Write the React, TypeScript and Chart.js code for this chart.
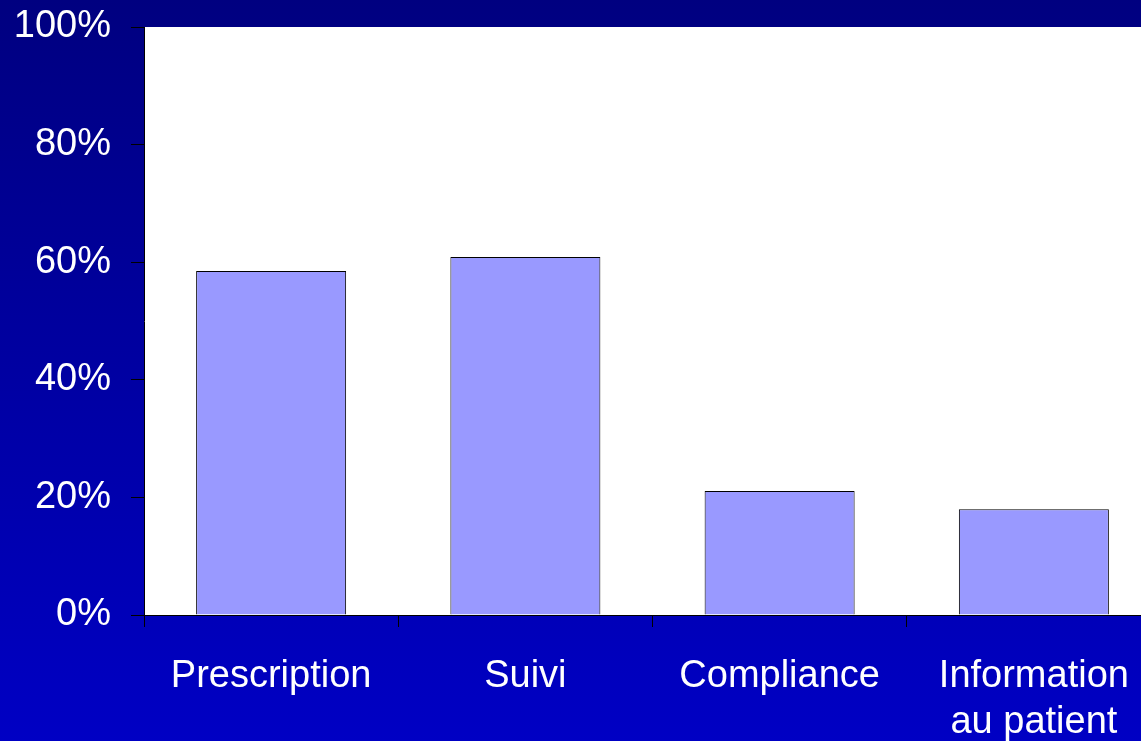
import React, { useEffect, useRef } from "react";
import { Chart, registerables } from "chart.js";

Chart.register(...registerables);

const categories: (string | string[])[] = ["Prescription", "Suivi", "Compliance", ["Information", "au patient"]];
const values: number[] = [58.5, 60.9, 21.1, 18.0];
const yTicks: number[] = [0, 20, 40, 60, 80, 100];

const bgPlugin = {
  id: "bgPlugin",
  beforeDraw(chart: any) {
    const { ctx, width, height, chartArea } = chart;
    ctx.save();
    const g = ctx.createLinearGradient(0, 0, 0, height);
    g.addColorStop(0, "#000080");
    g.addColorStop(1, "#0000C4");
    ctx.fillStyle = g;
    ctx.fillRect(0, 0, width, height);
    ctx.fillStyle = "#ffffff";
    ctx.fillRect(chartArea.left, chartArea.top, chartArea.right - chartArea.left, chartArea.bottom - chartArea.top);
    ctx.restore();
  },
};

export default function App() {
  const ref = useRef<HTMLCanvasElement | null>(null);
  useEffect(() => {
    document.body.style.margin = "0";
    const chart = new Chart(ref.current!, {
      type: "bar",
      data: {
        labels: categories,
        datasets: [
          {
            data: values,
            backgroundColor: "#9999FF",
            borderColor: "#000000",
            borderWidth: 1,
            barPercentage: 0.59,
            categoryPercentage: 1,
          },
        ],
      },
      options: {
        responsive: false,
        animation: false,
        layout: { padding: { top: 27, right: 0, left: 0, bottom: 0 } },
        plugins: { legend: { display: false }, tooltip: { enabled: false } },
        scales: {
          x: {
            grid: {
              offset: true,
              drawOnChartArea: false,
              color: "#000000",
              tickLength: 12,
            },
            border: { color: "#000000", width: 1 },
            ticks: {
              color: "#ffffff",
              font: { family: "'Liberation Sans', Arial, sans-serif", size: 38, lineHeight: 1.22 },
              padding: 26,
              maxRotation: 0,
              autoSkip: false,
            },
            afterFit(scale: any) {
              scale.height = 741 - 615;
              scale.paddingLeft = 0;
              scale.paddingRight = 0;
            },
          },
          y: {
            min: 0,
            max: 100,
            afterBuildTicks(scale: any) {
              scale.ticks = yTicks.map((v) => ({ value: v }));
            },
            grid: {
              drawOnChartArea: false,
              color: "#000000",
              tickLength: 13,
            },
            border: { color: "#000000", width: 1 },
            ticks: {
              color: "#ffffff",
              font: { family: "'Liberation Sans', Arial, sans-serif", size: 38 },
              padding: 20,
              callback: (v: any) => v + "%",
            },
            afterFit(scale: any) {
              scale.width = 144;
              scale.paddingTop = 0;
              scale.paddingBottom = 0;
            },
          },
        },
      },
      plugins: [bgPlugin],
    });
    return () => chart.destroy();
  }, []);
  return (
    <div style={{ width: 1141, height: 741, overflow: "hidden", position: "relative" }}>
      <canvas ref={ref} width={1161} height={741} style={{ display: "block" }} />
    </div>
  );
}
